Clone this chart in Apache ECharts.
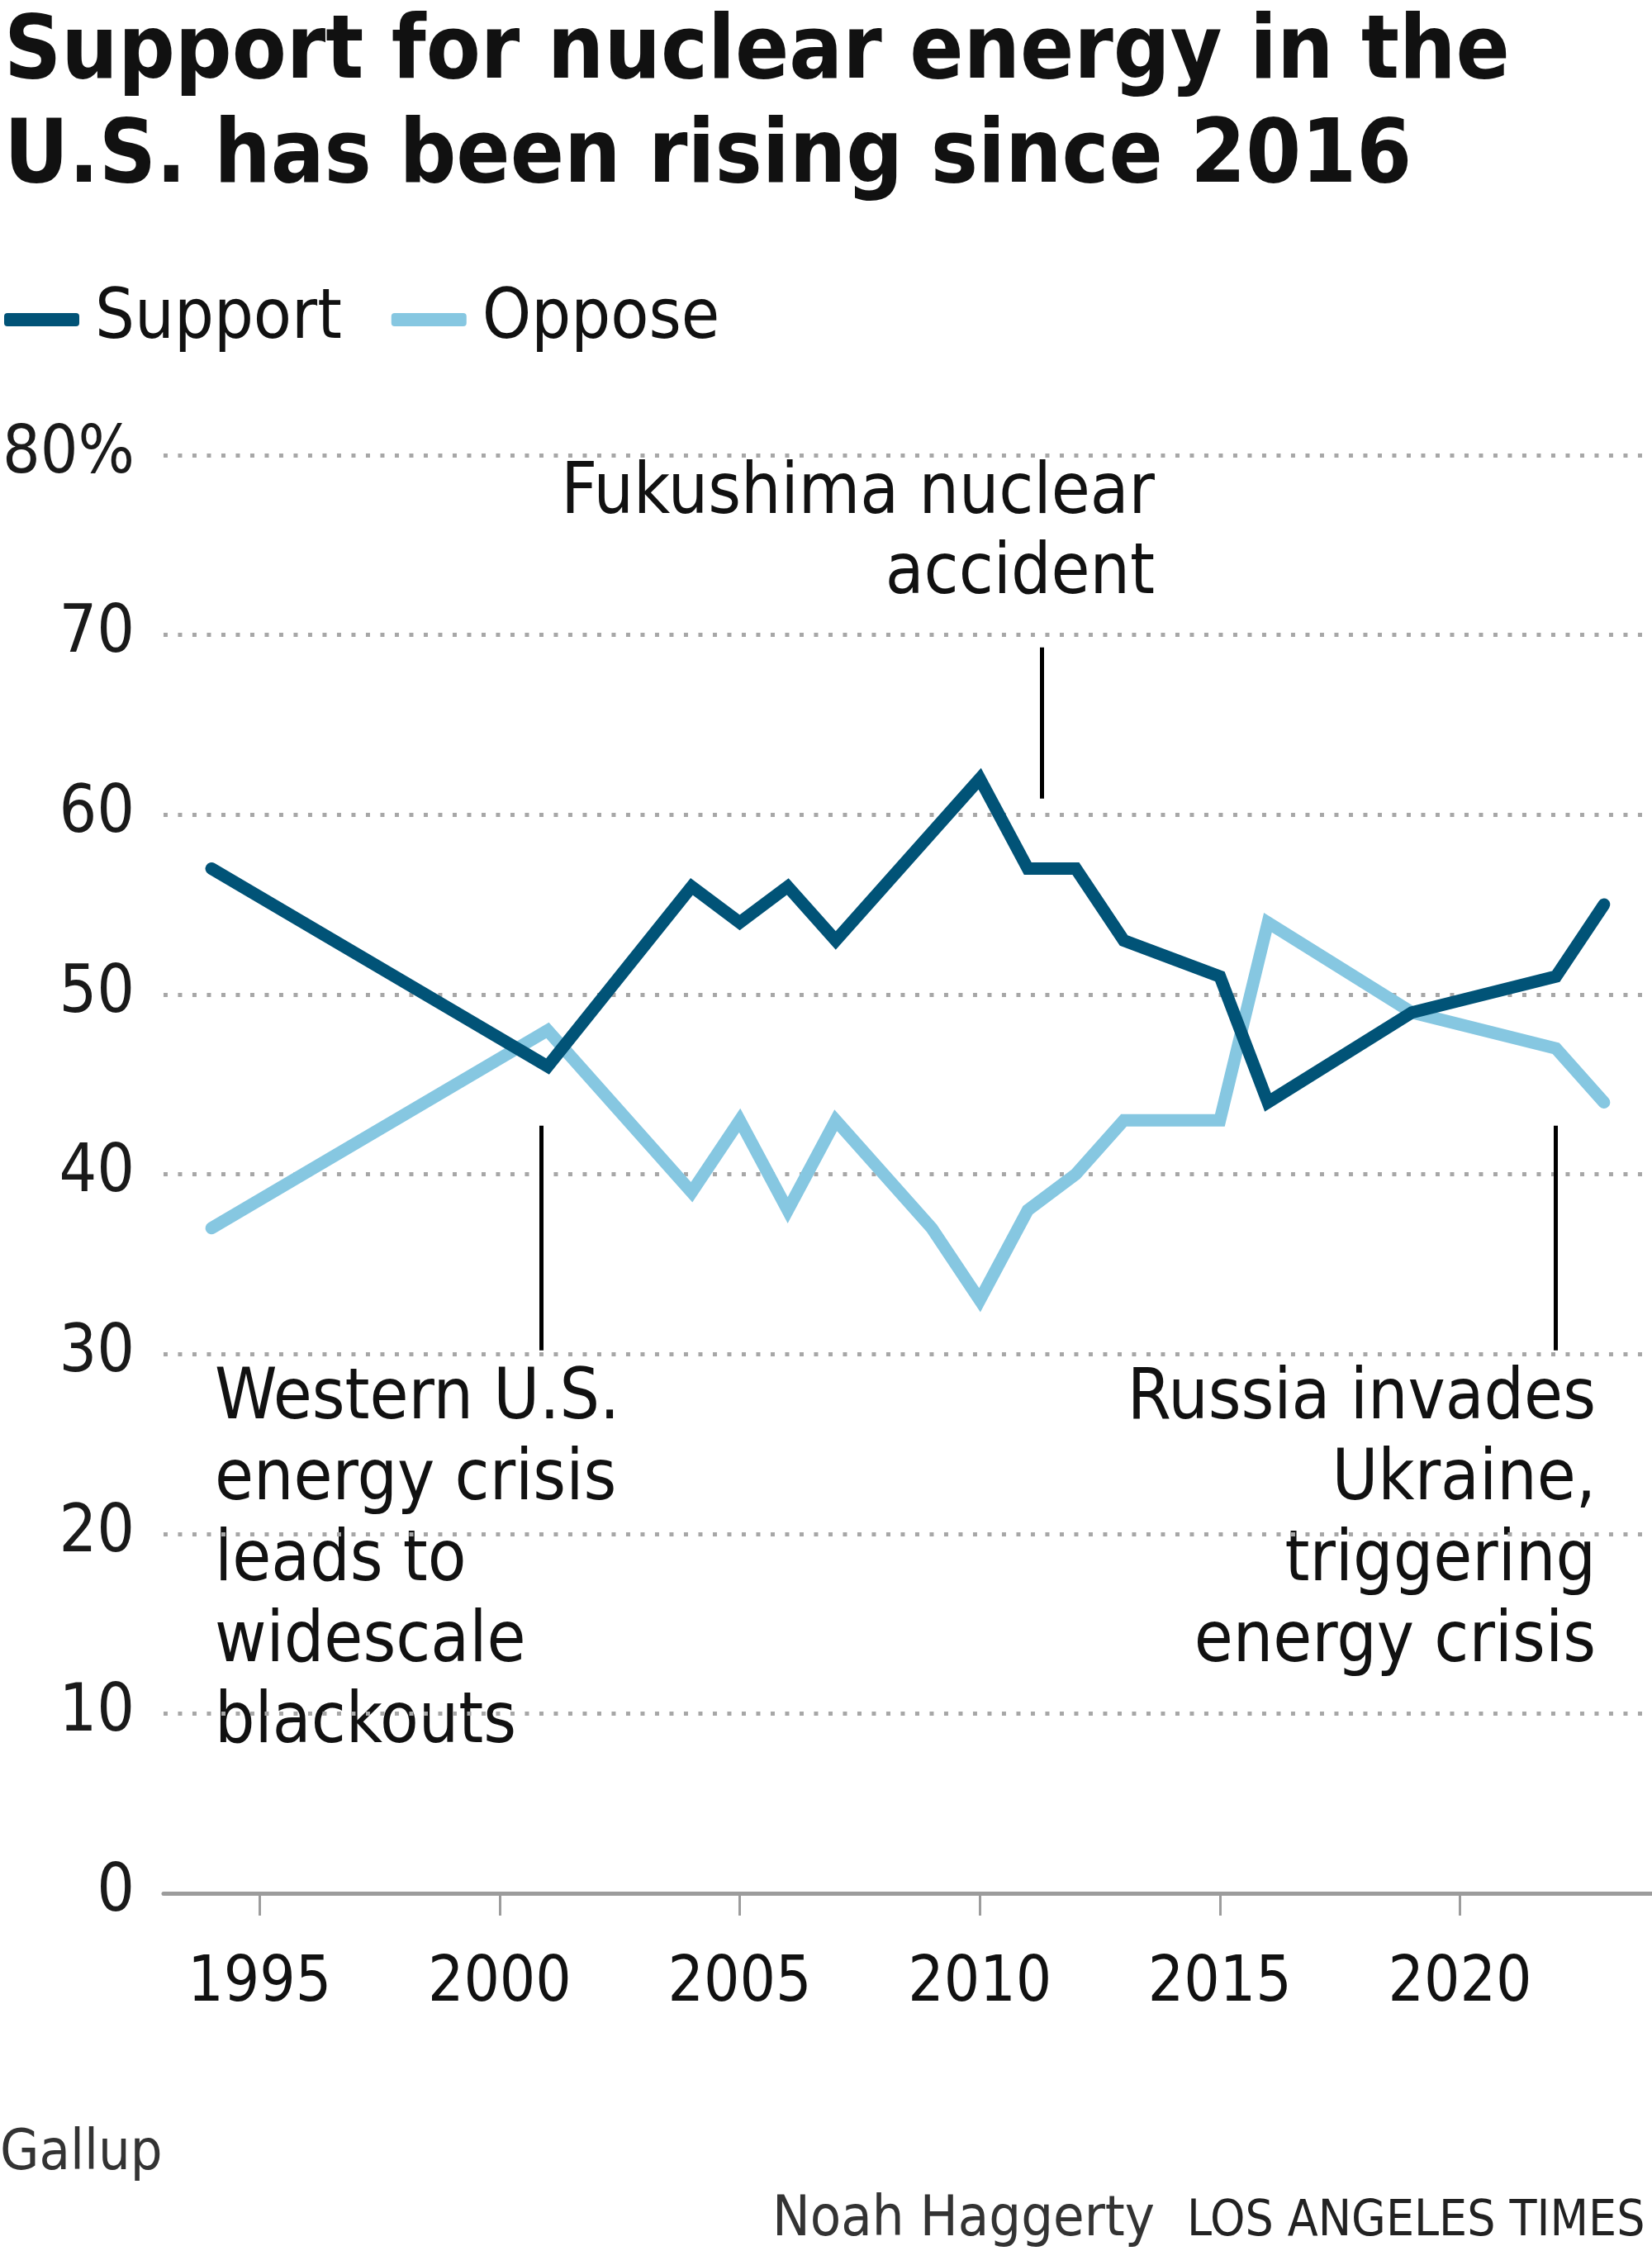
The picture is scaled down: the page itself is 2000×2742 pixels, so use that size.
<!DOCTYPE html>
<html>
<head>
<meta charset="utf-8">
<script src="https://cdn.jsdelivr.net/npm/echarts@6/dist/echarts.min.js"></script>
<style>
html,body{margin:0;padding:0;background:#fff;}
#chart{width:2000px;height:2742px;}
</style>
</head>
<body>
<div id="chart"></div>
<script>
// ---- Data ----
const supportYears  = [1994, 2001, 2004, 2005, 2006, 2007, 2010, 2011, 2012, 2013, 2015, 2016, 2019, 2022, 2023];
const supportValues = [57,   46,   56,   54,   56,   53,   62,   57,   57,   53,   51,   44,   49,   51,   55];
const opposeYears   = [1994, 2001, 2004, 2005, 2006, 2007, 2009, 2010, 2011, 2012, 2013, 2015, 2016, 2019, 2022, 2023];
const opposeValues  = [37,   48,   39,   43,   38,   43,   37,   33,   38,   40,   43,   43,   54,   49,   47,   44];
const xTickYears    = [1995, 2000, 2005, 2010, 2015, 2020];
const yTicks        = [0, 10, 20, 30, 40, 50, 60, 70, 80];
const eventMarks = [
  {x: 2000.86, y1: 42.7, y2: 30.2},  // Western U.S. energy crisis
  {x: 2011.3,  y1: 69.3, y2: 60.9},  // Fukushima
  {x: 2022.0,  y1: 42.7, y2: 30.2}   // Russia invades Ukraine
];

const FONT = '"Liberation Sans Narrow", "DejaVu Sans Condensed", "Roboto", sans-serif';
const SUPPORT_COLOR = '#015377';
const OPPOSE_COLOR = '#86c7e1';

const chart = echarts.init(document.getElementById('chart'), null, {renderer: 'canvas'});

const option = {
  backgroundColor: '#ffffff',
  animation: false,
  textStyle: {fontFamily: FONT},
  title: {
    text: 'Support for nuclear energy in the\nU.S. has been rising since 2016',
    left: 0, top: -2,
    textStyle: {fontFamily: FONT, fontWeight: 'bold', fontSize: 107, lineHeight: 126, color: '#111'}
  },
  legend: {
    left: 0, top: 340,
    icon: 'roundRect',
    itemWidth: 91, itemHeight: 16,
    itemGap: 60,
    textStyle: {fontFamily: FONT, fontSize: 84, color: '#111', padding: [0, 0, 0, 14]},
    data: ['Support', 'Oppose']
  },
  grid: {left: 196, right: -4, top: 551, bottom: 2742 - 2292, containLabel: false},
  xAxis: {
    type: 'value', min: 1993, max: 2024,
    splitLine: {show: false},
    axisLine: {show: true, lineStyle: {color: '#9c9c9c', width: 5}},
    axisTick: {show: true, customValues: xTickYears, length: 27, lineStyle: {color: '#9c9c9c', width: 3}},
    axisLabel: {customValues: xTickYears, margin: 72, fontFamily: FONT, fontSize: 76, color: '#111',
                formatter: v => String(v)}
  },
  yAxis: {
    type: 'value', min: 0, max: 80, interval: 10,
    axisLine: {show: false},
    axisTick: {show: false},
    axisLabel: {margin: 35, fontFamily: FONT, fontSize: 80, color: '#1a1a1a',
                formatter: v => v === 80 ? '80%' : String(v)},
    splitLine: {show: true, lineStyle: {color: '#a7a7a7', width: 5, type: [5, 12.5]}}
  },
  series: [
    {
      name: 'Support', type: 'line',
      data: supportYears.map((y, i) => [y, supportValues[i]]),
      showSymbol: false, symbol: 'none',
      lineStyle: {color: SUPPORT_COLOR, width: 15, cap: 'round', join: 'miter'},
      itemStyle: {color: SUPPORT_COLOR},
      z: 4,
      markLine: {
        silent: true, symbol: 'none', animation: false,
        lineStyle: {color: '#000', width: 5, type: 'solid'},
        label: {show: false},
        data: eventMarks.map(m => [{coord: [m.x, m.y1]}, {coord: [m.x, m.y2]}])
      }
    },
    {
      name: 'Oppose', type: 'line',
      data: opposeYears.map((y, i) => [y, opposeValues[i]]),
      showSymbol: false, symbol: 'none',
      lineStyle: {color: OPPOSE_COLOR, width: 15, cap: 'round', join: 'miter'},
      itemStyle: {color: OPPOSE_COLOR},
      z: 3
    }
  ],
  graphic: [
    {type: 'text', left: 260, top: 1646, style: {text: 'Western U.S.\nenergy crisis\nleads to\nwidescale\nblackouts', font: '85px ' + FONT, lineHeight: 98, fill: '#111', textAlign: 'left'}},
    {type: 'text', right: 2000 - 1398, top: 550, style: {text: 'Fukushima nuclear\naccident', font: '85px ' + FONT, lineHeight: 97, fill: '#111', textAlign: 'right'}},
    {type: 'text', right: 2000 - 1932, top: 1646, style: {text: 'Russia invades\nUkraine,\ntriggering\nenergy crisis', font: '85px ' + FONT, lineHeight: 98, fill: '#111', textAlign: 'right'}},
    {type: 'text', left: 0, top: 2574, style: {text: 'Gallup', font: '68px ' + FONT, fill: '#333'}},
    {type: 'text', right: 2000 - 1398, top: 2654, style: {text: 'Noah Haggerty', font: '68px ' + FONT, fill: '#333', textAlign: 'right'}},
    {type: 'text', left: 1437, top: 2660, style: {text: 'LOS ANGELES TIMES', font: '60px ' + FONT, fill: '#222'}}
  ]
};
chart.setOption(option);
</script>
</body>
</html>
